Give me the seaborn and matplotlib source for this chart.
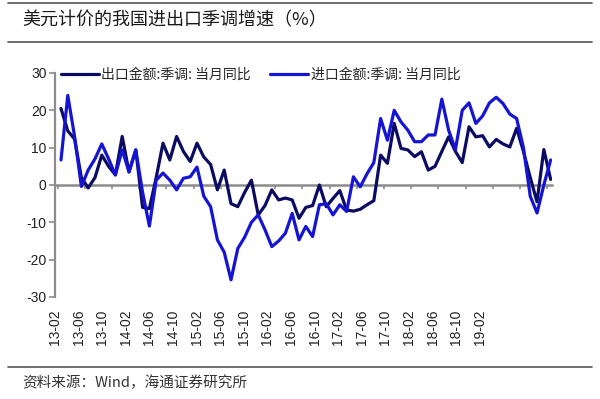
import matplotlib.pyplot as plt
import numpy as np
import pandas as pd
import seaborn as sns

# 月度数据 2013-02 ~ 2019-02
months = pd.period_range('2013-02', '2019-02', freq='M').strftime('%y-%m')

export = [20.5, 14.5, 12.3, 2.0, -0.8, 2.0, 8.0, 5.0, 2.7, 13.0,
          3.5, 9.4, -6.0, -6.3, 2.0, 11.2, 6.7, 13.0, 9.0, 6.3,
          11.2, 7.5, 5.5, -1.3, 4.0, -5.0, -5.8, -2.0, 1.3, -8.0,
          -5.5, -1.3, -4.0, -3.5, -4.0, -8.9, -6.0, -5.5, 0.0, -5.8,
          -3.6, -1.5, -6.7, -7.0, -6.5, -5.3, -4.2, 8.0, 5.8, 16.5,
          9.8, 9.4, 7.6, 8.9, 4.0, 5.0, 9.0, 12.9, 9.0, 6.0,
          15.6, 12.9, 13.2, 10.2, 12.2, 11.0, 10.2, 15.2, 9.0, 2.0,
          -4.5, 9.5, 1.5]

imports = [6.7, 24.0, 13.0, -0.4, 4.0, 7.0, 11.0, 7.0, 2.7, 9.4,
           3.5, 9.4, -2.0, -11.0, 1.3, 3.2, 1.3, -1.3, 1.8, 2.2,
           4.8, -3.0, -5.8, -14.7, -18.0, -25.4, -17.0, -14.0, -10.0, -8.0,
           -12.0, -16.5, -15.0, -12.9, -7.6, -14.7, -11.1, -13.8, -5.3, -5.0,
           -8.0, -5.3, -7.1, 2.2, -0.5, 3.0, 6.0, 17.8, 12.0, 20.0,
           16.9, 14.7, 11.6, 11.6, 13.4, 13.4, 23.0, 14.7, 9.5, 20.0,
           22.0, 16.5, 18.5, 22.0, 23.5, 21.8, 19.0, 17.8, 10.0, -3.0,
           -7.5, 0.0, 6.7]

series_names = ['出口金额:季调: 当月同比', '进口金额:季调: 当月同比']
colors = ['#0b0b62', '#1414d2']

tick_labels = ['13-02', '13-06', '13-10', '14-02', '14-06', '14-10', '15-02',
               '15-06', '15-10', '16-02', '16-06', '16-10', '17-02', '17-06',
               '17-10', '18-02', '18-06', '18-10', '19-02']

sns.set_style('white')
plt.rcParams['font.family'] = ['Liberation Sans', 'Noto Sans CJK SC', 'DejaVu Sans']
plt.rcParams['axes.unicode_minus'] = False

n = len(months)
df = pd.DataFrame({
    'idx': np.tile(np.arange(n), 2),
    'value': export + imports,
    'series': [series_names[0]] * n + [series_names[1]] * n,
})

fig = plt.figure(figsize=(6, 3.99), dpi=100)
ax = fig.add_axes([55 / 600, 1 - 297 / 399, 497 / 600, 224 / 399])

sns.lineplot(data=df, x='idx', y='value', hue='series', hue_order=series_names,
             palette=colors, linewidth=2.3, ax=ax)

gray = '#8c8c8c'
ax.set_xlim(-0.88, 72.2)
ax.set_ylim(-30, 30)
ax.set_yticks(range(-30, 31, 10))
ax.set_xlabel('')
ax.set_ylabel('')

for s in ['top', 'right', 'bottom']:
    ax.spines[s].set_visible(False)
ax.spines['left'].set_color(gray)
ax.spines['left'].set_linewidth(1.6)
ax.tick_params(axis='y', direction='out', length=4, width=1.2, color=gray,
               labelsize=10, labelcolor='#222222', pad=2, left=True)

# 标签在原图中被压缩排列
ax.set_xticks(-0.88 + 3.47 * np.arange(len(tick_labels)))
ax.set_xticklabels(tick_labels, rotation=90)
ax.tick_params(axis='x', length=0, pad=9, labelsize=10, labelcolor='#222222')

# 零轴与刻度
zero = ax.secondary_xaxis(0, transform=ax.transData)
zero.set_xticks(np.arange(-0.5, n, 4))
zero.xaxis.set_ticks_position('bottom')
zero.tick_params(axis='x', direction='out', length=3, width=1.2, color=gray,
                 labelbottom=False, labeltop=False)
for s in zero.spines.values():
    s.set_color(gray)
    s.set_linewidth(1.8)

handles, labels = ax.get_legend_handles_labels()
ax.legend(handles, labels, loc='center left', ncol=2, frameon=False,
          bbox_to_anchor=(6 / 497, (297 - 75) / 224), borderaxespad=0,
          borderpad=0, handlelength=2.7, handletextpad=0.2, columnspacing=1.4,
          prop={'family': ['Noto Sans CJK SC'], 'size': 10})

fig.text(22 / 600, 1 - 20 / 399, '美元计价的我国进出口季调增速（%）',
         fontsize=13, va='center', ha='left', color='#1a1a1a',
         family=['Noto Sans CJK SC', 'DejaVu Sans'])
fig.text(22 / 600, 1 - 383 / 399, '资料来源：Wind，海通证券研究所',
         fontsize=10.5, va='center', ha='left', color='#333333',
         family=['Noto Sans CJK SC', 'DejaVu Sans'])

for yy in [3, 42, 367]:
    fig.add_artist(plt.Line2D([8 / 600, 592 / 600], [1 - yy / 399] * 2,
                              color='#555555', linewidth=1.2))

fig.savefig('out.png', dpi=100)
